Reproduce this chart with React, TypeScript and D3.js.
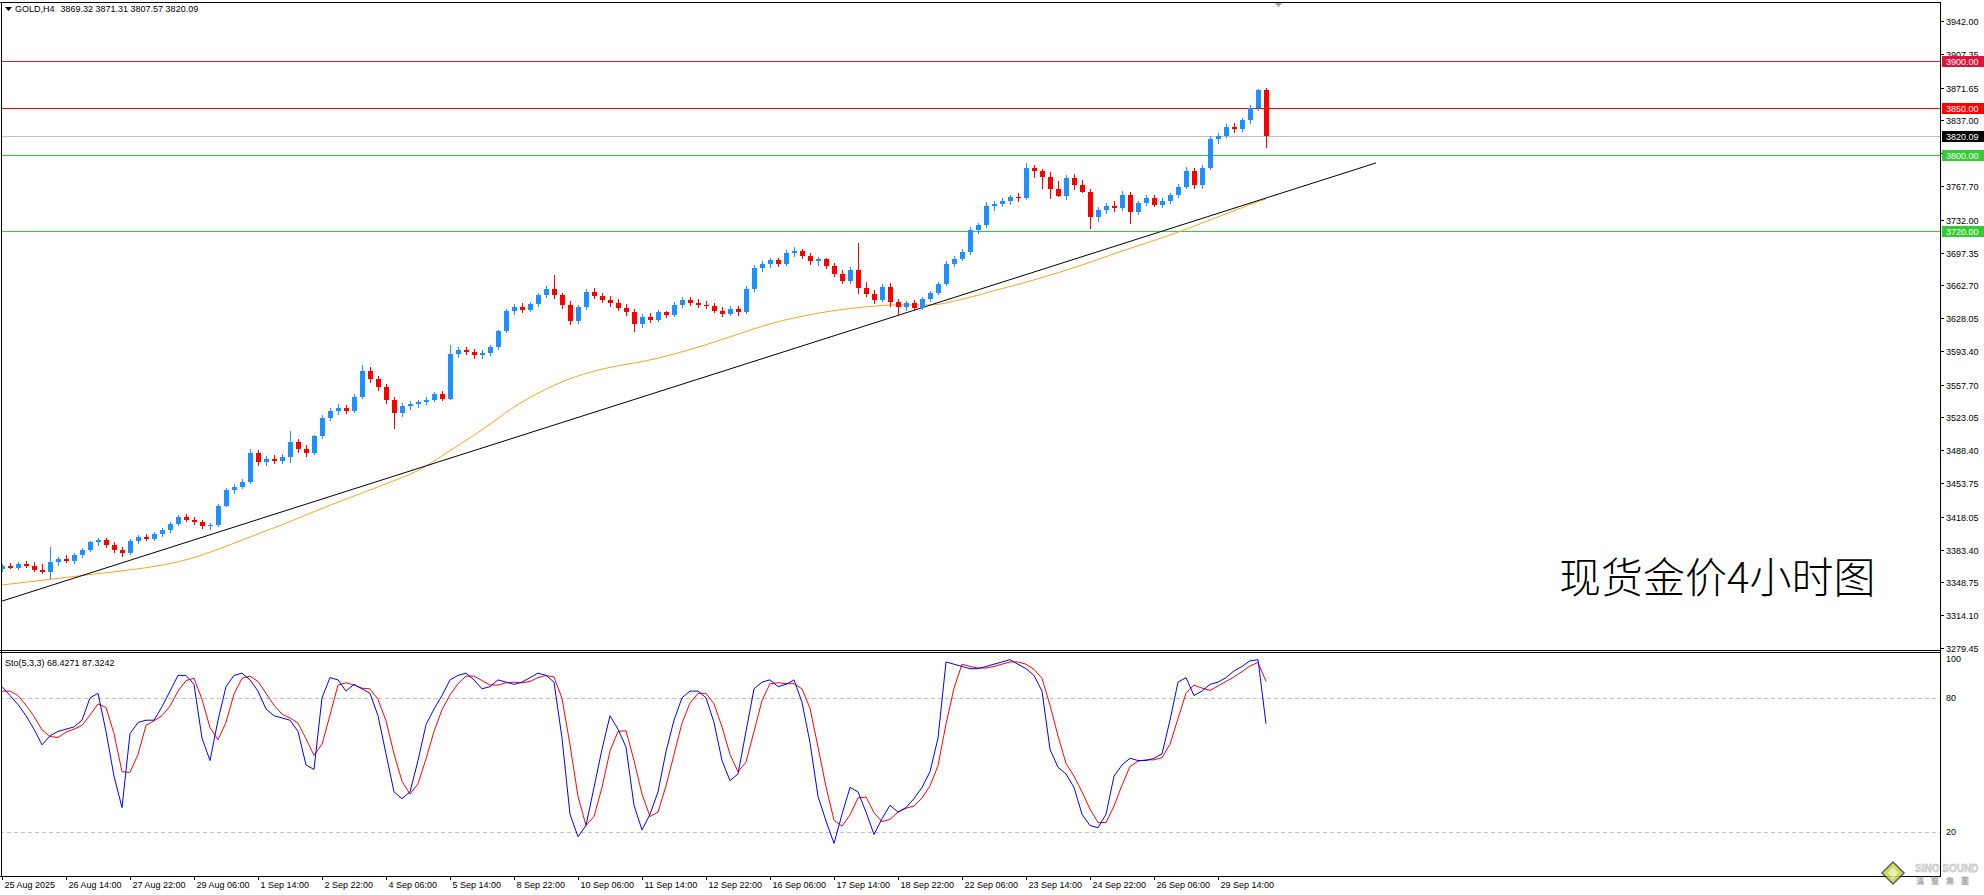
import React from 'react';
import * as d3 from 'd3';

// ---------- DATA ----------
const symbolTitle = 'GOLD,H4';
const lastOHLC = [3869.32, 3871.31, 3807.57, 3820.09];

const opens = [
  3363, 3366, 3364, 3368, 3366, 3362, 3360, 3370, 3373, 3371,
  3378, 3383, 3391, 3394, 3388, 3383, 3380, 3393, 3397, 3395,
  3400, 3404, 3411, 3418, 3415, 3413, 3408, 3409, 3430, 3446,
  3450, 3455, 3486, 3476, 3479, 3477, 3481, 3497, 3490, 3485,
  3503, 3523, 3530, 3533, 3530, 3545, 3572, 3564, 3555, 3541,
  3528, 3535, 3537, 3539, 3542, 3548, 3543, 3590, 3594, 3592,
  3589, 3591, 3597, 3614, 3636, 3640, 3637, 3643, 3652, 3659,
  3652, 3642, 3625, 3640, 3656, 3651, 3647, 3644, 3639, 3634,
  3622, 3629, 3626, 3634, 3631, 3642, 3647, 3644, 3642, 3641,
  3636, 3632, 3638, 3634, 3659, 3681, 3685, 3689, 3685, 3697,
  3699, 3694, 3688, 3690, 3683, 3675, 3667, 3679, 3660, 3654,
  3647, 3661, 3645, 3640, 3644, 3639, 3648, 3655, 3664, 3685,
  3691, 3698, 3721, 3726, 3747, 3749, 3752, 3756, 3755, 3787,
  3784, 3777, 3765, 3757, 3776, 3769, 3761, 3735, 3742, 3747,
  3744, 3758, 3740, 3750, 3755, 3748, 3752, 3758, 3767, 3784,
  3769, 3787, 3817, 3821, 3830, 3828, 3837, 3850, 3869.32,
];
const highs = [
  3368, 3369, 3370, 3371, 3370, 3368, 3386, 3376, 3378, 3380,
  3385, 3393, 3396, 3396, 3391, 3386, 3395, 3399, 3400, 3402,
  3406, 3413, 3420, 3421, 3418, 3415, 3412, 3432, 3448, 3453,
  3458, 3490, 3489, 3482, 3483, 3484, 3509, 3500, 3494, 3505,
  3526, 3533, 3537, 3536, 3548, 3578, 3576, 3567, 3558, 3545,
  3538, 3540, 3542, 3545, 3550, 3551, 3600, 3597, 3598, 3595,
  3594, 3600, 3616, 3638, 3643, 3644, 3645, 3655, 3662, 3674,
  3655, 3646, 3642, 3659, 3660, 3655, 3651, 3648, 3643, 3638,
  3632, 3633, 3637, 3636, 3645, 3650, 3650, 3648, 3646, 3644,
  3640, 3641, 3641, 3662, 3684, 3688, 3692, 3692, 3700, 3703,
  3701, 3697, 3693, 3692, 3686, 3679, 3682, 3707, 3666, 3658,
  3664, 3665, 3648, 3646, 3647, 3650, 3657, 3666, 3688, 3694,
  3701, 3724, 3729, 3751, 3752, 3755, 3758, 3760, 3792, 3790,
  3786, 3782, 3773, 3779, 3780, 3774, 3764, 3745, 3750, 3752,
  3762, 3761, 3752, 3758, 3758, 3755, 3760, 3770, 3788, 3787,
  3790, 3820, 3824, 3833, 3834, 3840, 3853, 3870, 3871.31,
];
const lows = [
  3360, 3363, 3362, 3364, 3360, 3358, 3352, 3366, 3369, 3368,
  3375, 3381, 3387, 3385, 3380, 3376, 3378, 3389, 3392, 3393,
  3397, 3401, 3408, 3413, 3409, 3405, 3404, 3407, 3428, 3442,
  3447, 3453, 3472, 3472, 3474, 3474, 3475, 3486, 3481, 3483,
  3500, 3519, 3526, 3527, 3528, 3543, 3560, 3551, 3537, 3511,
  3524, 3531, 3533, 3536, 3539, 3540, 3541, 3586, 3589, 3585,
  3585, 3588, 3594, 3612, 3631, 3633, 3634, 3640, 3649, 3648,
  3638, 3621, 3622, 3637, 3648, 3644, 3640, 3636, 3630, 3613,
  3618, 3623, 3624, 3628, 3629, 3639, 3641, 3639, 3638, 3633,
  3629, 3630, 3630, 3632, 3656, 3677, 3681, 3682, 3683, 3693,
  3690, 3684, 3683, 3680, 3672, 3664, 3664, 3654, 3650, 3643,
  3645, 3640, 3630, 3636, 3636, 3637, 3645, 3652, 3662, 3682,
  3688, 3695, 3717, 3723, 3741, 3745, 3748, 3751, 3753, 3776,
  3765, 3754, 3756, 3753, 3763, 3760, 3722, 3730, 3738, 3740,
  3741, 3727, 3737, 3746, 3745, 3744, 3749, 3755, 3764, 3764,
  3765, 3785, 3812, 3818, 3824, 3825, 3833, 3847, 3807.57,
];
const closes = [
  3366, 3364, 3368, 3366, 3362, 3360, 3370, 3373, 3371, 3378,
  3383, 3391, 3394, 3388, 3383, 3380, 3393, 3397, 3395, 3400,
  3404, 3411, 3418, 3415, 3413, 3408, 3409, 3430, 3446, 3450,
  3455, 3486, 3476, 3479, 3477, 3481, 3497, 3490, 3485, 3503,
  3523, 3530, 3533, 3530, 3545, 3572, 3564, 3555, 3541, 3528,
  3535, 3537, 3539, 3542, 3548, 3543, 3590, 3594, 3592, 3589,
  3591, 3597, 3614, 3636, 3640, 3637, 3643, 3652, 3659, 3652,
  3642, 3625, 3640, 3656, 3651, 3647, 3644, 3639, 3634, 3622,
  3629, 3626, 3634, 3631, 3642, 3647, 3644, 3642, 3641, 3636,
  3632, 3638, 3634, 3659, 3681, 3685, 3689, 3685, 3697, 3699,
  3694, 3688, 3690, 3683, 3675, 3667, 3679, 3660, 3654, 3647,
  3661, 3645, 3640, 3644, 3639, 3648, 3655, 3664, 3685, 3691,
  3698, 3721, 3726, 3747, 3749, 3752, 3756, 3755, 3787, 3784,
  3777, 3765, 3757, 3776, 3769, 3761, 3735, 3742, 3747, 3744,
  3758, 3740, 3750, 3755, 3748, 3752, 3758, 3767, 3784, 3769,
  3787, 3817, 3821, 3830, 3828, 3837, 3850, 3869.32, 3820.09,
];

// moving average (orange) read at every 4th bar
const maBars = [0, 4, 8, 12, 16, 20, 24, 28, 32, 36, 40, 44, 48, 52, 56, 60, 64, 68, 72, 76, 80,
  84, 88, 92, 96, 100, 104, 108, 112, 116, 120, 124, 128, 132, 136, 140, 144, 148, 152, 156, 158];
const maValues = [3346, 3350, 3354, 3358, 3362, 3367, 3375, 3387, 3400, 3413, 3427, 3440, 3453, 3467,
  3488, 3510, 3534, 3553, 3567, 3576, 3582, 3590, 3600, 3611, 3622, 3630, 3636, 3640, 3642, 3642,
  3648, 3657, 3666, 3676, 3687, 3699, 3710, 3722, 3735, 3748, 3754];

// trend line anchors (bar index, price)
const trendBars = [-0.375, 171.75];
const trendPrices = [3328, 3792];

// horizontal levels
const resistanceLevels = [3900, 3850];
const supportLevels = [3800, 3720];
const bidPrice = 3820.09;

const priceTicks = [3942.0, 3907.35, 3871.65, 3837.0, 3802.35, 3767.7, 3732.0, 3697.35, 3662.7,
  3628.05, 3593.4, 3557.7, 3523.05, 3488.4, 3453.75, 3418.05, 3383.4, 3348.75, 3314.1, 3279.45];

const stochMain = [
  85, 81, 77, 72, 66, 59, 63, 65, 66, 67,
  70, 80, 82, 65, 45, 31, 64, 69, 70, 70,
  76, 83, 90, 90, 86, 62, 52, 70, 85, 90,
  91, 88, 83, 75, 72, 71, 70, 65, 50, 48,
  80, 89, 88, 83, 86, 84, 82, 72, 55, 38,
  35, 38, 52, 68, 75, 81, 88, 90, 91, 88,
  84, 85, 88, 87, 86, 87, 89, 91, 90, 87,
  62, 28, 18, 23, 40, 57, 72, 66, 58, 32,
  21, 28, 38, 56, 70, 80, 83, 83, 80, 69,
  52, 43, 46, 65, 84, 87, 88, 85, 86, 88,
  78, 60, 36, 25, 15, 28, 40, 38, 29, 19,
  26, 32, 29, 31, 35, 40, 47, 62, 96, 95,
  94, 93, 93, 94, 95, 96, 97, 95, 93, 90,
  83, 57, 49, 46, 40, 28, 23, 22, 28, 45,
  50, 53, 52, 52, 53, 55, 70, 87, 89, 81,
  83, 86, 87, 89, 92, 94, 96.5, 97, 68.4271,
];
const stochSignal = [
  83, 83, 81, 76.7, 71.7, 65.7, 62.7, 62.3, 64.7, 66,
  67.7, 72.3, 77.3, 75.7, 64, 47, 46.7, 54.7, 67.7, 69.7,
  72, 76.3, 83, 87.7, 88.7, 79.3, 66.7, 61.3, 69, 81.7,
  88.7, 89.7, 87.3, 82, 76.7, 72.7, 71, 68.7, 61.7, 54.3,
  59.3, 72.3, 85.7, 86.7, 85.7, 84.3, 84, 79.3, 69.7, 55,
  42.7, 37, 41.7, 52.7, 65, 74.7, 81.3, 86.3, 89.7, 89.7,
  87.7, 85.7, 85.7, 86.7, 87, 86.7, 87.3, 89, 90, 89.3,
  79.7, 59, 36, 23, 27, 40, 56.3, 65, 65.3, 52,
  37, 27, 29, 40.7, 54.7, 68.7, 77.7, 82, 82, 77.3,
  67, 54.7, 47, 51.3, 65, 78.7, 86.3, 86.7, 86.3, 86.3,
  84, 75.3, 58, 40.3, 25.3, 22.7, 27.7, 35.3, 35.7, 28.7,
  24.7, 25.7, 29, 30.7, 31.7, 35.3, 40.7, 49.7, 68.3, 84.3,
  95, 94, 93.3, 93.3, 94, 95, 96, 96, 95, 92.7,
  88.7, 76.7, 63, 50.7, 45, 38, 30.3, 24.3, 24.3, 31.7,
  41, 49.3, 51.7, 52.3, 52.3, 53.3, 59.3, 70.7, 82, 85.7,
  84.3, 83.3, 85.3, 87.3, 89.3, 91.7, 94.2, 95.8, 87.3242,
];
const stochLevels = [80, 20];
const stochAxisLabels = [100, 80, 20];

const timeLabels = ['25 Aug 2025', '26 Aug 14:00', '27 Aug 22:00', '29 Aug 06:00', '1 Sep 14:00',
  '2 Sep 22:00', '4 Sep 06:00', '5 Sep 14:00', '8 Sep 22:00', '10 Sep 06:00', '11 Sep 14:00',
  '12 Sep 22:00', '16 Sep 06:00', '17 Sep 14:00', '18 Sep 22:00', '22 Sep 06:00', '23 Sep 14:00',
  '24 Sep 22:00', '26 Sep 06:00', '29 Sep 14:00'];
const timeLabelBars = [0, 8, 16, 24, 32, 40, 48, 56, 64, 72, 80, 88, 96, 104, 112, 120, 128, 136, 144, 152];

const chartCaption = '现货金价4小时图';

// ---------- LAYOUT ----------
const W = 1984;
const H = 895;
const AXIS_X = 1940;
const MAIN_TOP = 2;
const MAIN_BOTTOM = 650;
const STO_TOP = 652;
const STO_BOTTOM = 876;
const FONT = "'Liberation Sans', Arial, sans-serif";

export default function App() {
  React.useEffect(() => {
    document.body.style.margin = '0';
  }, []);

  const x = d3.scaleLinear().domain([0, 158]).range([2, 1266]);
  const yP = d3.scaleLinear().domain([3279.45, 3942]).range([648, 21]);
  const yS = d3.scaleLinear().domain([0, 100]).range([877, 653]);

  const crisp = (v: number) => Math.round(v) + 0.5;

  const maLine = d3
    .line<number>()
    .x((_, i) => x(maBars[i]))
    .y((d) => yP(d))
    .curve(d3.curveMonotoneX)(maValues);

  const trendLine = d3
    .line<number>()
    .x((_, i) => x(trendBars[i]))
    .y((d) => yP(d))(trendPrices);

  const stoLine = (arr: number[]) =>
    d3
      .line<number>()
      .x((_, i) => x(i))
      .y((d) => yS(d))(arr);

  const levelColor: Record<number, string> = { 3900: '#DC143C', 3850: '#FF0000', 3800: '#32CD32', 3720: '#32CD32' };
  const allLevels = [...resistanceLevels, ...supportLevels];

  const boxes = [
    ...allLevels.map((v) => ({ v, fill: levelColor[v] })),
    { v: bidPrice, fill: '#000000' },
  ];

  return (
    <svg
      width={W}
      height={H}
      style={{ position: 'absolute', left: 0, top: 0, background: '#fff', display: 'block' }}
      fontFamily={FONT}
    >
      <defs>
        <clipPath id="mainClip">
          <rect x={1} y={MAIN_TOP} width={AXIS_X - 1} height={MAIN_BOTTOM - MAIN_TOP} />
        </clipPath>
        <clipPath id="stoClip">
          <rect x={1} y={STO_TOP} width={AXIS_X - 1} height={STO_BOTTOM - STO_TOP} />
        </clipPath>
      </defs>
      <rect x={0} y={0} width={W} height={H} fill="#fff" />

      {/* main panel */}
      <g clipPath="url(#mainClip)">
        {allLevels.map((v) => (
          <line key={'lv' + v} x1={0} x2={AXIS_X} y1={crisp(yP(v))} y2={crisp(yP(v))} stroke={levelColor[v]} strokeWidth={1} />
        ))}
        <line x1={0} x2={AXIS_X} y1={crisp(yP(bidPrice))} y2={crisp(yP(bidPrice))} stroke="#C0C0C0" strokeWidth={1} />

        <path d={maLine || ''} fill="none" stroke="#F5A623" strokeWidth={1} />
        <path d={trendLine || ''} fill="none" stroke="#000" strokeWidth={1} />

        {closes.map((c, i) => {
          const o = opens[i];
          const bull = c >= o;
          const col = bull ? '#1E90FF' : '#FF0000';
          const cx = Math.round(x(i));
          const yTop = Math.round(yP(Math.max(o, c)));
          const yBot = Math.round(yP(Math.min(o, c)));
          return (
            <g key={'c' + i} shapeRendering="crispEdges">
              <rect x={cx} y={Math.round(yP(highs[i]))} width={1} height={Math.max(1, Math.round(yP(lows[i])) - Math.round(yP(highs[i])))} fill={col} />
              <rect x={cx - 2} y={yTop} width={5} height={Math.max(1, yBot - yTop)} fill={col} />
            </g>
          );
        })}

        <text x={1559} y={593} fontFamily="'Noto Sans CJK SC', sans-serif" fontWeight={300} fontSize={42} fill="#000">
          {chartCaption}
        </text>
      </g>

      {/* header */}
      <polygon points="5,7 12,7 8.5,11" fill="#000" />
      <text x={15} y={12} fontSize={9} fill="#000">
        {symbolTitle}
        <tspan dx={6}>{lastOHLC.map((v) => v.toFixed(2)).join(' ')}</tspan>
      </text>
      {/* chart shift marker */}
      <polygon points="1274,2 1283,2 1278.5,7" fill="#A0A0A0" />

      {/* stochastic panel */}
      <g clipPath="url(#stoClip)">
        {stochLevels.map((v) => (
          <line key={'sl' + v} x1={0} x2={AXIS_X} y1={crisp(yS(v))} y2={crisp(yS(v))} stroke="#C0C0C0" strokeDasharray="4,3" strokeWidth={1} />
        ))}
        <path d={stoLine(stochSignal) || ''} fill="none" stroke="#FF0000" strokeWidth={1} />
        <path d={stoLine(stochMain) || ''} fill="none" stroke="#0000FF" strokeWidth={1} />
      </g>
      <text x={5} y={666} fontSize={9} fill="#000">
        {'Sto(5,3,3) ' + stochMain[stochMain.length - 1].toFixed(4) + ' ' + stochSignal[stochSignal.length - 1].toFixed(4)}
      </text>

      {/* frames */}
      <g shapeRendering="crispEdges" stroke="#000" strokeWidth={1}>
        <line x1={0} x2={AXIS_X} y1={MAIN_TOP + 0.5} y2={MAIN_TOP + 0.5} />
        <line x1={1.5} x2={1.5} y1={MAIN_TOP} y2={STO_BOTTOM} />
        <line x1={0} x2={AXIS_X} y1={MAIN_BOTTOM + 0.5} y2={MAIN_BOTTOM + 0.5} />
        <line x1={0} x2={AXIS_X} y1={STO_TOP + 0.5} y2={STO_TOP + 0.5} />
        <line x1={0} x2={AXIS_X} y1={STO_BOTTOM + 0.5} y2={STO_BOTTOM + 0.5} />
        <line x1={AXIS_X + 0.5} x2={AXIS_X + 0.5} y1={MAIN_TOP} y2={STO_BOTTOM + 1} />
      </g>

      {/* price axis */}
      {priceTicks.map((v) => {
        const yy = crisp(yP(v));
        return (
          <g key={'pt' + v}>
            <line x1={AXIS_X} x2={AXIS_X + 4} y1={yy} y2={yy} stroke="#000" shapeRendering="crispEdges" />
            <text x={AXIS_X + 6} y={yy} dy="0.35em" fontSize={9} fill="#000">
              {v.toFixed(2)}
            </text>
          </g>
        );
      })}
      {boxes.map((b) => {
        const yy = Math.round(yP(b.v));
        return (
          <g key={'bx' + b.v}>
            <rect x={AXIS_X + 2} y={yy - 5} width={W - AXIS_X - 2} height={11} fill={b.fill} shapeRendering="crispEdges" />
            <text x={AXIS_X + 6} y={yy + 0.5} dy="0.35em" fontSize={9} fill="#fff">
              {b.v.toFixed(2)}
            </text>
          </g>
        );
      })}

      {/* stochastic axis */}
      {stochAxisLabels.map((v) => {
        const yy = Math.max(yS(v), STO_TOP + 7);
        return (
          <text key={'sa' + v} x={AXIS_X + 6} y={yy} dy="0.35em" fontSize={9} fill="#000">
            {v}
          </text>
        );
      })}

      {/* time axis */}
      {timeLabels.map((t, k) => {
        const xx = crisp(x(timeLabelBars[k]));
        return (
          <g key={'tl' + k}>
            <line x1={xx} x2={xx} y1={STO_BOTTOM} y2={STO_BOTTOM + 4} stroke="#000" shapeRendering="crispEdges" />
            <text x={xx + 2} y={888} fontSize={9} fill="#000">
              {t}
            </text>
          </g>
        );
      })}

      {/* watermark logo */}
      <g opacity={0.85}>
        <polygon points="1893,862 1904,873 1893,884 1882,873" fill="#C8D44A" stroke="#444" strokeWidth={1.5} />
        <polygon points="1893,867 1898,873 1893,879 1888,873" fill="#E8EFA0" />
        <text x={1915} y={872} fontSize={10} fontWeight="bold" fill="#E4E4E4" stroke="#9A9A9A" strokeWidth={0.4}>
          SINO SOUND
        </text>
        <text x={1916} y={884} fontSize={8} fill="#E4E4E4" stroke="#9A9A9A" strokeWidth={0.3} letterSpacing={7} fontFamily="'Noto Sans CJK TC', sans-serif">
          漢聲集團
        </text>
      </g>
    </svg>
  );
}
